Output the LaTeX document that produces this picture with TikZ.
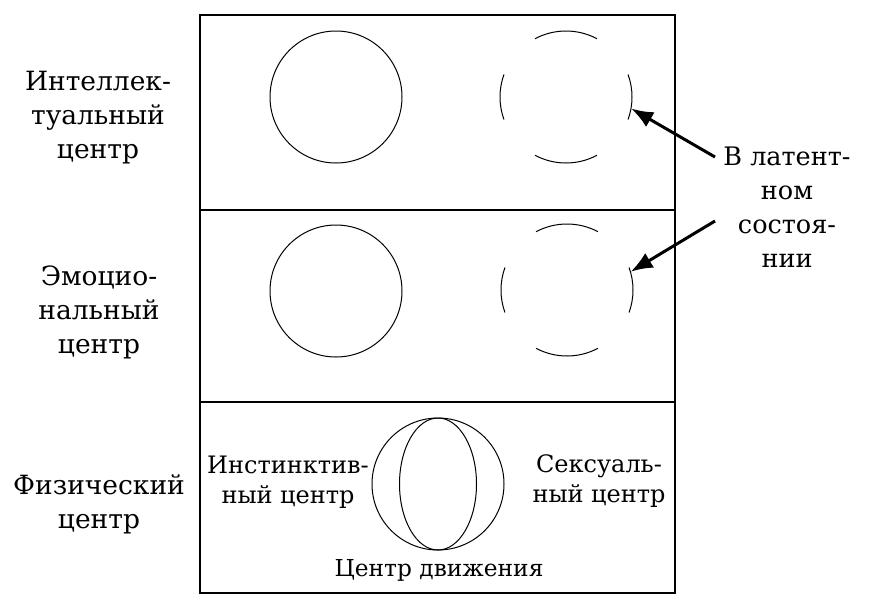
\documentclass[tikz,border=0pt]{standalone}
\usepackage{fontspec}
\setmainfont{DejaVu Serif}
\usetikzlibrary{arrows.meta}
\begin{document}
\begin{tikzpicture}[x=1pt,y=-1pt,text_node/.style={align=center,inner sep=0pt,font=\fontsize{26.5}{34}\selectfont},inner_node/.style={align=center,inner sep=0pt,font=\fontsize{24}{30}\selectfont},main_node/.style={circle,draw,line width=1pt,minimum size=132pt,inner sep=0pt},latent_node/.style={circle,minimum size=132pt,inner sep=0pt},frame_line/.style={line width=2.2pt},point_arrow/.style={line width=3pt,-{Latex[length=22pt,width=17pt]}}]

		\useasboundingbox (0,0) rectangle (870,600);

		\draw[frame_line] (200,15) rectangle (675,593);
		\draw[frame_line] (200,210) -- (675,210);
		\draw[frame_line] (200,402) -- (675,402);

		\node[main_node] (intel) at (336,97) {};
		\node[latent_node] (intel_lat) at (566,97) {};
		\node[main_node] (emo) at (336,291) {};
		\node[latent_node] (emo_lat) at (567,290) {};
		\node[main_node] (move) at (438,484) {};
		\draw[line width=1pt] (move.center) ellipse (38.5 and 66);

		\foreach \c in {intel_lat,emo_lat}
			\foreach \a/\w in {90/28,270/28,0/20,180/20}
				\draw[line width=1pt] (\c) ++(\a-\w:66) arc (\a-\w:\a+\w:66);

		\node[text_node] (intel_text) at (98,118) {Интеллек-\\туальный\\центр};
		\node[text_node] (emo_text) at (99,312) {Эмоцио-\\нальный\\центр};
		\node[text_node] (phys_text) at (99,504) {Физический\\центр};
		\node[text_node,font=\fontsize{25.5}{34}\selectfont] (lat_text) at (787,207) {В латент-\\ном\\состоя-\\нии};
		\node[inner_node] (inst_text) at (288,482) {Инстинктив-\\ный центр};
		\node[inner_node] (sex_text) at (599,481) {Сексуаль-\\ный центр};
		\node[inner_node,font=\fontsize{23.3}{30}\selectfont] (move_text) at (439,570) {Центр движения};

		\coordinate (tail_top) at (715,157);
		\coordinate (tail_bot) at (715,221);
		\draw[point_arrow] (tail_top) -- (intel_lat.-10);
		\draw[point_arrow] (tail_bot) -- (emo_lat.16);
		\end{tikzpicture}
\end{document}
